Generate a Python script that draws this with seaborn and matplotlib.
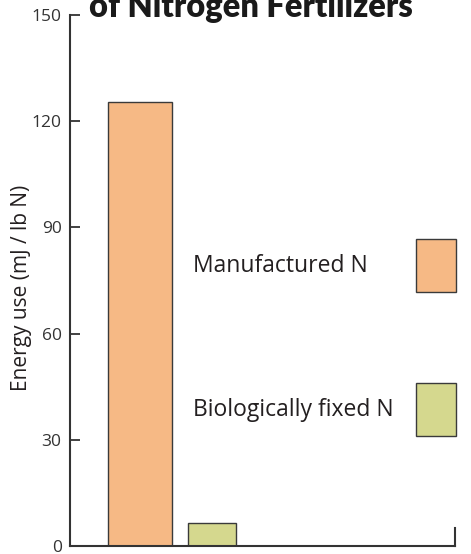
import matplotlib
matplotlib.use("Agg")
import matplotlib.pyplot as plt
import seaborn as sns
from matplotlib.patches import Patch

# Data
sources = ["Manufactured N", "Biologically fixed N"]
energy_use = [125.5, 6.6]
bar_colors = ["#F6B985", "#D5D88E"]
y_ticks = [0, 30, 60, 90, 120, 150]

sns.set_theme(style="white")
plt.rcParams["font.family"] = ["Open Sans", "DejaVu Sans"]

fig = plt.figure(figsize=(4.71, 5.54), dpi=100)
ax = fig.add_axes([70 / 471, 8 / 554, 385 / 471, 531 / 554])

sns.barplot(x=sources, y=energy_use, hue=sources, palette=bar_colors,
            order=sources, width=0.89, saturation=1, edgecolor="#3a3a3a",
            linewidth=1.0, legend=False, ax=ax)

# the second bar is narrower in the original
green = ax.patches[1]
green.set_width(0.67)
green.set_x(1 - 0.335)

ax.set_xlim(-0.972, 4.375)
ax.set_ylim(0, 150)
ax.set_yticks(y_ticks)
ax.set_yticklabels([str(t) for t in y_ticks], fontsize=12.5, color="#333333")
ax.set_xticks([])
ax.tick_params(axis="y", direction="in", length=7, width=1.3,
               color="#333333", left=True, pad=6)
ax.set_ylabel("Energy use (mJ / lb N)", fontsize=15, color="#231f20")
ax.yaxis.set_label_coords(-0.099, 0.486)

for side in ["left", "bottom", "right"]:
    ax.spines[side].set_color("#333333")
    ax.spines[side].set_linewidth(1.5)
ax.spines["top"].set_visible(False)
ax.spines["right"].set_bounds(0, 5)

handles = [Patch(facecolor=c, edgecolor="#3a3a3a", linewidth=1.0)
           for c in bar_colors]
leg = ax.legend(handles, sources, loc="upper right",
                bbox_to_anchor=(1.003, 0.578), frameon=False,
                markerfirst=False, fontsize=16.5, handlelength=1.75,
                handleheight=3.2, labelspacing=3.95, handletextpad=1.0,
                borderpad=0, borderaxespad=0)
for t in leg.get_texts():
    t.set_color("#231f20")

# line the labels up on their left edge, like the original
fig.canvas.draw()
widths = [t.get_window_extent().width for t in leg.get_texts()]
column = leg._legend_handle_box.get_children()[0]
for item, w in zip(column.get_children(), widths):
    item.sep = item.sep + (max(widths) - w) * 72 / fig.dpi

fig.text(0.533, 1 - 17 / 554, "of Nitrogen Fertilizers", ha="center",
         va="baseline", fontsize=23.5, fontweight="heavy",
         family=["Lato", "DejaVu Sans"], color="#1a1a1a")

fig.savefig("out.png", dpi=100)
